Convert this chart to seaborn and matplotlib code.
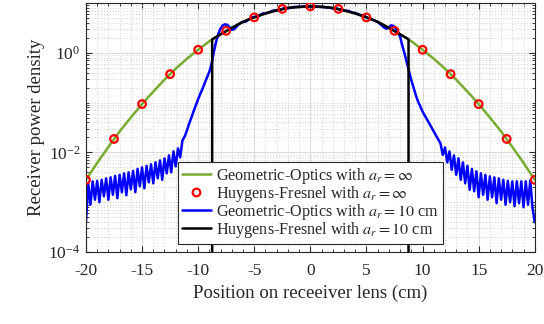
import numpy as np
import pandas as pd
import matplotlib
matplotlib.use("Agg")
import matplotlib.pyplot as plt
import matplotlib.ticker as mticker
import seaborn as sns

# Green curve / red markers (log10 of receiver power density), a_r = inf
go_x = list(range(-20, 21))
go_log10 = [-2.55, -2.21, -1.89, -1.58, -1.30, -1.03, -0.78, -0.54, -0.32, -0.12,
            0.06, 0.23, 0.37, 0.50, 0.62, 0.71, 0.79, 0.85, 0.90, 0.92,
            0.93,
            0.92, 0.90, 0.85, 0.79, 0.71, 0.62, 0.50, 0.37, 0.23, 0.06,
            -0.12, -0.32, -0.54, -0.78, -1.03, -1.30, -1.58, -1.89, -2.21, -2.55]

hf_x = [-20, -17.5, -15, -12.5, -10, -7.5, -5, -2.5, 0, 2.5, 5, 7.5, 10, 12.5, 15, 17.5, 20]
hf_log10 = [-2.55, -1.73, -1.03, -0.43, 0.06, 0.44, 0.71, 0.88, 0.93,
            0.88, 0.71, 0.44, 0.06, -0.43, -1.03, -1.73, -2.55]

# Blue curve, a_r = 10 cm, sampled every 0.2 cm from -20 to 20
blue_left_tail = [-3.40, -2.62, -3.05, -2.58, -2.95, -2.57, -3.00, -2.55, -2.88, -2.52,
                  -2.95, -2.50, -2.85, -2.47, -2.92, -2.45, -2.80, -2.42, -2.86, -2.40,
                  -2.74, -2.37, -2.80, -2.33, -2.68, -2.30, -2.72, -2.27, -2.60, -2.24,
                  -2.62, -2.20, -2.52, -2.16, -2.55, -2.12, -2.42, -2.06, -2.40, -1.98,
                  -2.28, -1.92, -2.10]
blue_left_edge = [-1.76, -1.68, -1.56, -1.42, -1.30, -1.17, -1.05, -0.93, -0.82, -0.72,
                  -0.60, -0.49, -0.38, -0.22, 0.02, 0.22, 0.38, 0.49, 0.55, 0.57,
                  0.56, 0.51, 0.46, 0.47, 0.52, 0.57, 0.60]
blue_centre = [0.62, 0.62, 0.65, 0.68, 0.71, 0.72, 0.72, 0.74, 0.77, 0.79,
               0.79, 0.80, 0.82, 0.84, 0.85, 0.85, 0.86, 0.87, 0.89, 0.89,
               0.89, 0.90, 0.91, 0.92, 0.92, 0.92, 0.92, 0.93, 0.93, 0.93,
               0.93,
               0.93, 0.93, 0.93, 0.92, 0.92, 0.92, 0.91, 0.91, 0.90, 0.89,
               0.89, 0.88, 0.87, 0.87, 0.85, 0.84, 0.84, 0.82, 0.80, 0.80,
               0.78, 0.76, 0.75, 0.74, 0.71, 0.69, 0.68, 0.66, 0.64]
blue_right_edge = [0.62, 0.58, 0.54, 0.50, 0.48, 0.51, 0.55, 0.54, 0.49, 0.42,
                   0.32, 0.14, -0.02, -0.20, -0.38, -0.55, -0.70, -0.85, -0.98, -1.08,
                   -1.18, -1.26, -1.34, -1.42, -1.50, -1.58, -1.66, -1.74, -1.82]
blue_right_tail = [-2.05, -1.90, -2.20, -1.98, -2.35, -2.06, -2.45, -2.12, -2.55, -2.20,
                   -2.62, -2.27, -2.75, -2.33, -2.78, -2.38, -2.90, -2.42, -2.85, -2.45,
                   -2.95, -2.48, -2.90, -2.50, -3.02, -2.52, -2.95, -2.55, -3.05, -2.57,
                   -3.00, -2.58, -3.08, -2.58, -3.02, -2.58, -3.10, -2.58, -3.05, -2.56,
                   -3.12, -3.40]

# Black curve, a_r = 10 cm (zero outside the lens edge)
edge = 8.75
black_x = [-edge, -edge, -8, -7, -6, -5, -4, -3, -2, -1, 0, 1, 2, 3, 4, 5, 6, 7, 8, edge, edge]
black_log10 = [-6, 0.27, 0.37, 0.50, 0.62, 0.71, 0.79, 0.85, 0.90, 0.92, 0.93,
               0.92, 0.90, 0.85, 0.79, 0.71, 0.62, 0.50, 0.37, 0.27, -6]

labels = [r"Geometric-Optics with $a_r = \infty$",
          r"Huygens-Fresnel with $a_r = \infty$",
          r"Geometric-Optics with $a_r = 10$ cm",
          r"Huygens-Fresnel with $a_r = 10$ cm"]

blue_log10 = blue_left_tail + blue_left_edge + blue_centre + blue_right_edge + blue_right_tail
blue_x = np.round(np.linspace(-20, 20, len(blue_log10)), 1)

go = pd.DataFrame({"x": go_x, "p": 10.0 ** np.array(go_log10)})
hf = pd.DataFrame({"x": hf_x, "p": 10.0 ** np.array(hf_log10)})
blue = pd.DataFrame({"x": blue_x, "p": 10.0 ** np.array(blue_log10)})
black = pd.DataFrame({"x": black_x, "p": 10.0 ** np.array(black_log10)})

sns.set_style("ticks")
plt.rcParams["font.family"] = ["Liberation Serif", "DejaVu Serif"]
plt.rcParams["mathtext.fontset"] = "stix"
plt.rcParams["axes.unicode_minus"] = False

fig = plt.figure(figsize=(5.44, 3.24), dpi=100)
ax = fig.add_axes([0.158, 0.222, 0.825, 0.769])
ax.set_yscale("log")

sns.lineplot(data=go, x="x", y="p", color="#77AC30", lw=1.8, estimator=None, sort=False, ax=ax)
sns.lineplot(data=blue, x="x", y="p", color="#0000FF", lw=1.8, estimator=None, sort=False, ax=ax)
sns.lineplot(data=black, x="x", y="p", color="black", lw=1.8, estimator=None, sort=False, ax=ax)
sns.scatterplot(data=hf, x="x", y="p", marker="o", s=30, facecolor="none",
                edgecolor="red", linewidth=1.6, zorder=5, ax=ax)

ax.set_xlim(-20, 20)
ax.set_ylim(1e-4, 1e1)
ax.xaxis.set_major_locator(mticker.MultipleLocator(5))
ax.xaxis.set_minor_locator(mticker.MultipleLocator(1))
ax.yaxis.set_major_locator(mticker.FixedLocator([1e-4, 1e-2, 1e0]))
ax.yaxis.set_minor_locator(mticker.LogLocator(base=10, subs=np.arange(1, 10), numticks=20))
ax.yaxis.set_major_formatter(mticker.LogFormatterMathtext())
ax.yaxis.set_minor_formatter(mticker.NullFormatter())

ax.grid(which="major", color="#dcdcdc", lw=0.8, ls="-")
ax.grid(which="minor", color="#d0d0d0", lw=0.7, ls=(0, (1, 2)))
ax.set_axisbelow(True)

ax.tick_params(which="both", direction="in", top=True, right=True,
               colors="#262626", labelsize=12.5)
ax.tick_params(which="major", length=4, width=0.8)
ax.tick_params(which="minor", length=2.2, width=0.6)
ax.tick_params(axis="x", which="major", pad=8)
ax.tick_params(axis="y", which="major", pad=4)
for s in ax.spines.values():
    s.set_color("#262626")
    s.set_linewidth(0.8)

ax.set_xlabel("Position on receeiver lens (cm)", fontsize=13.5, color="#262626", labelpad=4)
ax.set_ylabel("Receiver power density", fontsize=13.5, color="#262626", labelpad=2)

handles = [
    plt.Line2D([], [], color="#77AC30", lw=1.8),
    plt.Line2D([], [], ls="none", marker="o", mfc="none", mec="red", ms=5.5, mew=1.6),
    plt.Line2D([], [], color="#0000FF", lw=1.8),
    plt.Line2D([], [], color="black", lw=1.8),
]
leg = ax.legend(handles, labels, loc="lower center", bbox_to_anchor=(0.5, 0.032),
                borderaxespad=0, fontsize=11.6, fancybox=False, framealpha=1,
                edgecolor="#262626", handlelength=1.8, borderpad=0.25,
                labelspacing=-0.12, handletextpad=0.35)
leg.get_frame().set_linewidth(0.8)

fig.savefig("out.png", dpi=100)
